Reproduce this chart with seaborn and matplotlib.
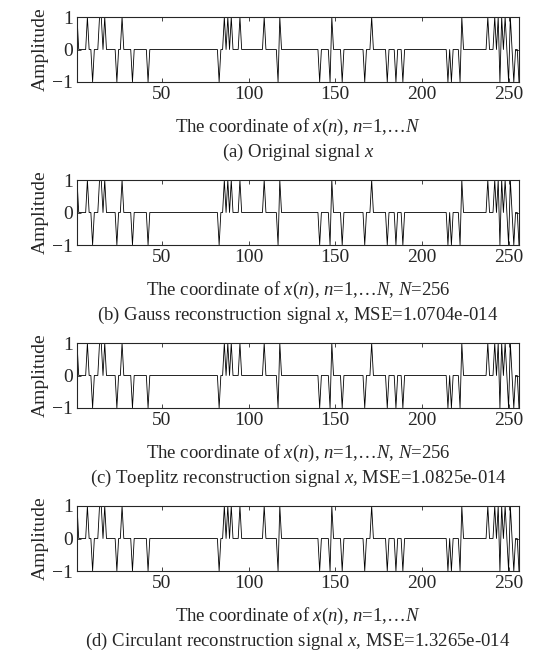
import numpy as np
import seaborn as sns
import matplotlib
matplotlib.use("Agg")
import matplotlib.pyplot as plt

# sparse ternary test signal, N=256 (positions)
N = 256
pos_idx = [1, 7, 14, 15, 17, 27, 86, 88, 90, 95, 109, 118, 148, 171, 223,
           238, 242, 244, 246, 248, 251]
neg_idx = [10, 24, 33, 42, 83, 117, 141, 147, 154, 167, 180, 185, 189,
           215, 217, 222, 245, 250, 253, 256]

x_ticks = [50, 100, 150, 200, 250]
y_ticks = [-1, 0, 1]

xlabels = [r"The coordinate of $x$($n$), $n$=1,…$N$",
           r"The coordinate of $x$($n$), $n$=1,…$N$, $N$=256",
           r"The coordinate of $x$($n$), $n$=1,…$N$, $N$=256",
           r"The coordinate of $x$($n$), $n$=1,…$N$"]
captions = [r"(a) Original signal $x$",
            r"(b) Gauss reconstruction signal $x$, MSE=1.0704e-014",
            r"(c) Toeplitz reconstruction signal $x$, MSE=1.0825e-014",
            r"(d) Circulant reconstruction signal $x$, MSE=1.3265e-014"]

n = np.arange(1, N + 1)
sig = np.zeros(N)
sig[np.array(pos_idx) - 1] = 1
sig[np.array(neg_idx) - 1] = -1

sns.set_style("ticks")
plt.rcParams["font.family"] = ["Liberation Serif", "DejaVu Serif"]
plt.rcParams["mathtext.fontset"] = "custom"
plt.rcParams["mathtext.rm"] = "Liberation Serif"
plt.rcParams["mathtext.it"] = "Liberation Serif:italic"
plt.rcParams["font.size"] = 13.5

W, H = 544, 652
fig = plt.figure(figsize=(W / 100, H / 100), dpi=100)

left, right = 77, 519
ph = 65
tops = [17, 180, 343, 506]

for i, t in enumerate(tops):
    ax = fig.add_axes([left / W, (H - t - ph) / H, (right - left) / W, ph / H])
    sns.lineplot(x=n, y=sig, ax=ax, color="black", linewidth=0.6)
    ax.set_xlim(1, N)
    ax.set_ylim(-1, 1)
    ax.set_xticks(x_ticks)
    ax.set_yticks(y_ticks)
    ax.tick_params(direction="in", length=3, width=0.6, top=True, right=True,
                   labelsize=14, pad=3)
    for s in ax.spines.values():
        s.set_linewidth(0.8)
    ax.set_xlabel("")
    ax.set_ylabel("Amplitude", fontsize=14, labelpad=2)
    cx = (left + right) / 2 / W
    fig.text(cx, 1 - (t + ph + 45) / H, xlabels[i], ha="center", va="center",
             fontsize=13.5)
    fig.text(cx, 1 - (t + ph + 70) / H, captions[i], ha="center", va="center",
             fontsize=13.5)

fig.savefig("out.png", dpi=100)
